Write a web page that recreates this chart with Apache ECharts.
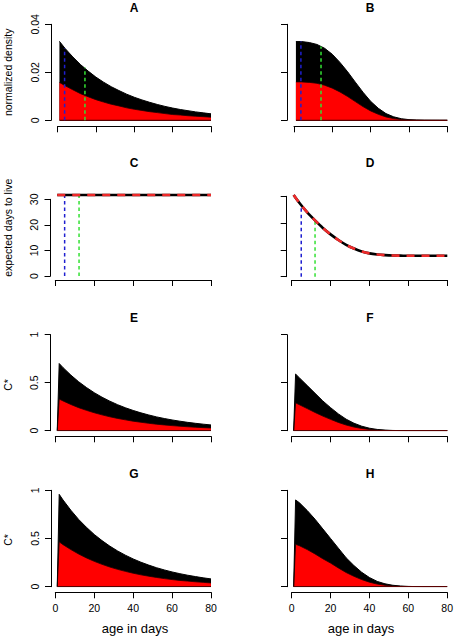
<!DOCTYPE html>
<html><head><meta charset="utf-8">
<style>html,body{margin:0;padding:0;background:#fff}#c{width:456px;height:639px}</style>
<script src="https://cdn.jsdelivr.net/npm/echarts@6/dist/echarts.min.js"></script>
</head><body><div id="c"></div>
<script>
// ---------- data ----------
const ageDens = [1,4,8,12,16,20,24,28,32,36,40,44,48,52,56,60,64,68,72,76,80];
const ageC = [1,2,4,8,12,16,20,24,28,32,36,40,44,48,52,56,60,64,68,72,76,80];
const xTicks = [0,20,40,60,80];

const densA_total = [0.0329,0.0299,0.0264,0.0232,0.0205,0.0180,0.0159,0.0140,0.0124,0.0109,0.0096,0.0085,0.0075,0.0066,0.0058,0.0051,0.0045,0.0040,0.0035,0.0031,0.0027];
const densA_red   = [0.0158,0.0144,0.0127,0.0111,0.0098,0.0086,0.0076,0.0067,0.0060,0.0052,0.0046,0.0041,0.0036,0.0032,0.0028,0.0024,0.0022,0.0019,0.0017,0.0015,0.0013];
const densB_total = [0.0328,0.0328,0.0324,0.0316,0.0300,0.0275,0.0241,0.0202,0.0159,0.0117,0.0079,0.0050,0.0028,0.00145,0.00067,0.00027,0.0001,0.00003,0.00001,0,0];
const densB_red   = [0.0160,0.0160,0.0158,0.0154,0.0146,0.0134,0.0118,0.0099,0.0078,0.0057,0.0039,0.0025,0.0014,0.0007,0.0003,0.00013,0.00005,0,0,0,0];

const lifeC = [31.7,31.7,31.7,31.7,31.7,31.7,31.7,31.7,31.7,31.7,31.7,31.7,31.7,31.7,31.7,31.7,31.7,31.7,31.7,31.7,31.7];
const lifeD = [30.5,27.5,24.0,21.0,18.2,15.8,13.7,11.9,10.5,9.4,8.7,8.3,8.05,7.9,7.85,7.8,7.8,7.8,7.8,7.8,7.8];

const cstarE_total = [0,0.700,0.657,0.579,0.510,0.450,0.396,0.349,0.308,0.271,0.239,0.211,0.186,0.164,0.144,0.127,0.112,0.099,0.087,0.077,0.068,0.060];
const cstarE_red   = [0,0.330,0.310,0.273,0.240,0.212,0.187,0.165,0.145,0.128,0.113,0.099,0.088,0.077,0.068,0.060,0.053,0.047,0.041,0.036,0.032,0.028];
const cstarF_total = [0,0.590,0.550,0.470,0.390,0.310,0.240,0.175,0.120,0.078,0.047,0.026,0.013,0.006,0.0025,0.001,0,0,0,0,0,0];
const cstarF_red   = [0,0.290,0.270,0.230,0.190,0.152,0.118,0.086,0.059,0.038,0.023,0.013,0.0065,0.003,0.0012,0.0005,0,0,0,0,0,0];
const cstarG_total = [0,0.958,0.899,0.793,0.698,0.616,0.542,0.478,0.421,0.371,0.327,0.288,0.254,0.224,0.197,0.174,0.153,0.135,0.119,0.105,0.092,0.081];
const cstarG_red   = [0,0.465,0.436,0.385,0.339,0.299,0.263,0.232,0.204,0.180,0.159,0.140,0.123,0.109,0.096,0.084,0.074,0.065,0.058,0.051,0.045,0.039];
const cstarH_total = [0,0.900,0.870,0.790,0.700,0.600,0.500,0.400,0.300,0.220,0.150,0.095,0.055,0.030,0.015,0.007,0.003,0.001,0,0,0,0];
const cstarH_red   = [0,0.440,0.425,0.385,0.340,0.290,0.245,0.195,0.147,0.108,0.074,0.047,0.027,0.015,0.007,0.003,0.001,0.0005,0,0,0,0];

// vertical marker lines: [age, height] (blue, green)
const markA = [[3.7,0.0300],[14.3,0.0220]];
const markB = [[3.6,0.0328],[14.1,0.0307]];
const markC = [[4.8,31.7],[12.2,31.7]];
const markD = [[4.9,26.5],[12.0,21.0]];

const panelTitles = ['A','B','C','D','E','F','G','H'];
const yNames = ['normalized density','expected days to live','C*','C*'];
const xName = 'age in days';

// ---------- layout ----------
const FONT = '"Liberation Sans", Arial, Helvetica, sans-serif';
const L = {l:57.5,w:153.5}, R = {l:294,w:153.3};
const L2 = {l:55.3,w:155.7}, R2 = {l:291.7,w:155.6};
const panels = [
  {col:L, top:24.3, h:96, ymax:0.04, yint:0.02, xoff:6, yoff:6.5, ylab:true, xlab:false, kind:'area', x:ageDens, tot:densA_total, red:densA_red, mark:markA, tx:134, ty:8},
  {col:R, top:24.3, h:96, ymax:0.04, yint:0.02, xoff:6, yoff:7, ylab:false, xlab:false, kind:'area', x:ageDens, tot:densB_total, red:densB_red, mark:markB, tx:370, ty:8},
  {col:L2, top:199.3, h:76.7, ymax:30, yint:10, xoff:4, yoff:4.8, ylab:true, xlab:false, kind:'line', x:ageDens, val:lifeC, mark:markC, tx:134, ty:163.3},
  {col:R2, top:196.3, h:80.4, ymax:30, yint:10, xoff:3.3, yoff:5, ylab:false, xlab:false, kind:'line', x:ageDens, val:lifeD, mark:markD, tx:370, ty:163.3, smooth:true},
  {col:L2, top:334.7, h:96, ymax:1, yint:0.5, xoff:5.6, yoff:4.6, ylab:true, xlab:false, kind:'area', x:ageC, tot:cstarE_total, red:cstarE_red, tx:134, ty:318.3},
  {col:R2, top:334.7, h:96, ymax:1, yint:0.5, xoff:5.6, yoff:4.7, ylab:false, xlab:false, kind:'area', x:ageC, tot:cstarF_total, red:cstarF_red, tx:370, ty:318.3},
  {col:L2, top:490.3, h:96.4, ymax:1, yint:0.5, xoff:5.6, yoff:4.3, ylab:true, xlab:true, kind:'area', x:ageC, tot:cstarG_total, red:cstarG_red, tx:134, ty:474},
  {col:R2, top:490.3, h:96.4, ymax:1, yint:0.5, xoff:5.6, yoff:4.7, ylab:false, xlab:true, kind:'area', x:ageC, tot:cstarH_total, red:cstarH_red, tx:370, ty:474}
];

const grid=[], xAxis=[], yAxis=[], series=[], graphic=[];
const pairs = (xs, ys) => xs.map((x,i)=>[x, ys[i]]);
const axisBase = {
  axisLine:{show:true, onZero:false, lineStyle:{color:'#000', width:1}},
  axisTick:{show:true, length:6, lineStyle:{color:'#000', width:1}},
  splitLine:{show:false}
};
panels.forEach((p,i)=>{
  grid.push({left:p.col.l, width:p.col.w, top:p.top, height:p.h, containLabel:false});
  xAxis.push(Object.assign({}, axisBase, {type:'value', gridIndex:i, min:0, max:80, interval:20, offset:p.xoff,
    axisLabel:{show:p.xlab, color:'#000', fontSize:10.5, fontFamily:FONT, margin:10, showMinLabel:true, showMaxLabel:true}}));
  yAxis.push(Object.assign({}, axisBase, {type:'value', gridIndex:i, min:0, max:p.ymax, interval:p.yint, offset:p.yoff,
    axisLabel:{show:p.ylab, color:'#000', fontSize:10.5, fontFamily:FONT, rotate:90, margin:11, showMinLabel:true, showMaxLabel:true}}));
  if (p.kind==='area') {
    series.push({type:'line', xAxisIndex:i, yAxisIndex:i, data:pairs(p.x,p.tot), symbol:'none',
      lineStyle:{color:'#000', width:1}, areaStyle:{color:'#000', opacity:1}, silent:true, animation:false});
    series.push({type:'line', xAxisIndex:i, yAxisIndex:i, data:pairs(p.x,p.red), symbol:'none',
      lineStyle:{color:'#1a0000', width:0.8}, areaStyle:{color:'#ff0000', opacity:1}, silent:true, animation:false});
    series.push({type:'line', xAxisIndex:i, yAxisIndex:i, data:[[p.x[0],0],[80,0]], symbol:'none',
      lineStyle:{color:'#5a0000', width:1.2}, silent:true, animation:false});
  }
  if (p.mark) {
    const cols = ['#1f1fd0','#33e033'];
    p.mark.forEach((m,k)=>{
      series.push({type:'line', xAxisIndex:i, yAxisIndex:i, data:[[m[0],0],[m[0],m[1]]], symbol:'none',
        lineStyle:{color:cols[k], width:1.5, type:[3.5,3]}, silent:true, animation:false, clip:false});
    });
  }
  if (p.kind==='line') {
    series.push({type:'line', xAxisIndex:i, yAxisIndex:i, data:pairs(p.x,p.val), symbol:'none', smooth:p.smooth?0.3:false,
      lineStyle:{color:'#000', width:2.6}, silent:true, animation:false, clip:false});
    series.push({type:'line', xAxisIndex:i, yAxisIndex:i, data:pairs(p.x,p.val), symbol:'none', smooth:p.smooth?0.3:false,
      lineStyle:{color:'#ee2a2a', width:2.6, type:[8,7]}, silent:true, animation:false, clip:false});
  }
  graphic.push({type:'text', x:p.tx, y:p.ty, style:{text:panelTitles[i], fill:'#000', font:'bold 12px '+FONT, textAlign:'center', textVerticalAlign:'middle', align:'center', verticalAlign:'middle'}});
});
const yNamePos = [[8.3,72.3],[8,227.7],[8,385],[8,540]];
yNamePos.forEach((pos,k)=>{
  graphic.push({type:'text', x:pos[0], y:pos[1], rotation:Math.PI/2, style:{text:yNames[k], fill:'#000', font:'10.5px '+FONT, textAlign:'center', textVerticalAlign:'middle', align:'center', verticalAlign:'middle'}});
});
[[135,628.3],[361,628.3]].forEach(pos=>{
  graphic.push({type:'text', x:pos[0], y:pos[1], style:{text:xName, fill:'#000', font:'13px '+FONT, textAlign:'center', textVerticalAlign:'middle', align:'center', verticalAlign:'middle'}});
});

const chart = echarts.init(document.getElementById('c'), null, {renderer:'svg'});
chart.setOption({animation:false, backgroundColor:'#fff', grid, xAxis, yAxis, series, graphic});
</script></body></html>
